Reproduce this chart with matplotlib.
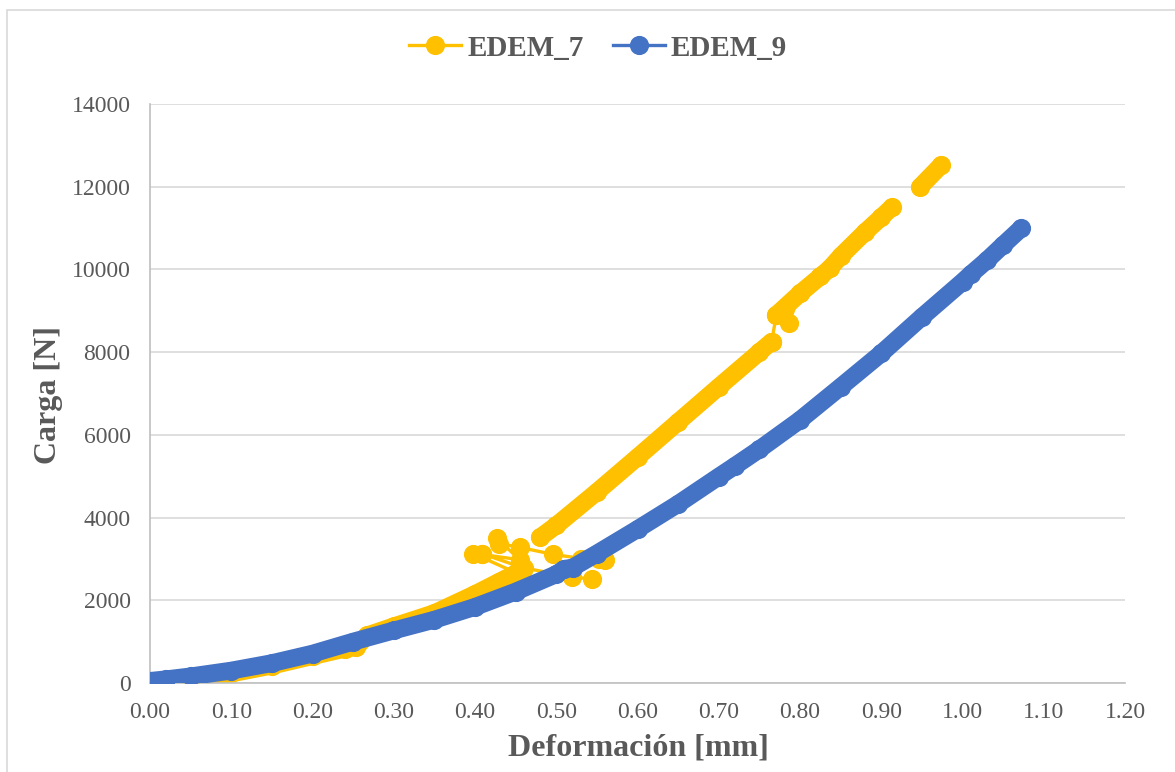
import numpy as np
import matplotlib
matplotlib.use("Agg")
import matplotlib.pyplot as plt
from matplotlib.lines import Line2D
from matplotlib.patches import Rectangle

# ---------------- data ----------------
nan = np.nan
# EDEM_7 main (dense) curve, gaps marked with nan
edem7_x = [0.00, 0.05, 0.10, 0.15, 0.20, 0.24, 0.254, 0.267, 0.30, 0.35, 0.40, 0.43, 0.451, nan,
           0.48, 0.50, 0.55, 0.60, 0.65, 0.70, 0.75, 0.765, nan,
           0.771, 0.80, 0.825, 0.837, 0.85, 0.88, 0.90, 0.913, nan,
           0.948, 0.974]
edem7_y = [0, 90, 230, 420, 650, 830, 865, 1150, 1370, 1690, 2150, 2450, 2660, nan,
           3520, 3810, 4620, 5460, 6310, 7160, 8000, 8250, nan,
           8900, 9420, 9830, 10030, 10320, 10900, 11260, 11500, nan,
           12000, 12525]
# EDEM_7 scattered points joined by thin lines
edem7_sx = [0.451, 0.398, 0.408, 0.46, 0.519, 0.544, nan,
            0.408, 0.455, 0.427, 0.430, 0.455, 0.496, 0.531, 0.560, 0.552, nan,
            0.765, 0.771, 0.786, 0.80]
edem7_sy = [2660, 3130, 3130, 2780, 2570, 2510, nan,
            3110, 2980, 3500, 3370, 3280, 3110, 3010, 2970, 2990, nan,
            8250, 8900, 8700, 9420]
# EDEM_9 curve
edem9_x = [0.00, 0.02, 0.05, 0.10, 0.15, 0.20, 0.25, 0.30, 0.35, 0.40, 0.45, 0.50, 0.51, 0.52,
           0.55, 0.60, 0.65, 0.70, 0.72, 0.75, 0.80, 0.85, 0.90, 0.95, 1.00, 1.01, 1.03, 1.05, 1.072]
edem9_y = [50, 90, 160, 300, 480, 710, 1000, 1270, 1530, 1840, 2210, 2630, 2760, 2790,
           3130, 3720, 4330, 4990, 5250, 5650, 6360, 7160, 7970, 8850, 9700, 9880, 10220, 10590, 10990]

series_names = ["EDEM_7", "EDEM_9"]
xticks = [0.00, 0.10, 0.20, 0.30, 0.40, 0.50, 0.60, 0.70, 0.80, 0.90, 1.00, 1.10, 1.20]
yticks = [0, 2000, 4000, 6000, 8000, 10000, 12000, 14000]

# ---------------- style ----------------
YEL = "#FFC000"
BLU = "#4472C4"
TXT = "#595959"
GRID = "#D9D9D9"
plt.rcParams["font.family"] = ["Liberation Serif", "DejaVu Serif"]

W, H = 1175, 772
fig = plt.figure(figsize=(W / 100, H / 100), dpi=100)
ax = fig.add_axes([150 / W, 1 - 683 / H, 975 / W, 579 / H])

ms = 12.8   # marker diameter in points
band = 12.8
thin = 2.4

# EDEM_7
ax.plot(edem7_x, edem7_y, color=YEL, lw=band, solid_capstyle="round",
        solid_joinstyle="round", zorder=2)
ax.plot(edem7_sx, edem7_sy, color=YEL, lw=thin, marker="o", ms=ms, mec=YEL, mfc=YEL, zorder=2)
ax.plot(edem7_x, edem7_y, color=YEL, lw=0, marker="o", ms=ms, mec=YEL, mfc=YEL, zorder=2)
# EDEM_9
ax.plot(edem9_x, edem9_y, color=BLU, lw=band, solid_capstyle="round",
        solid_joinstyle="round", zorder=3)
ax.plot(edem9_x, edem9_y, color=BLU, lw=0, marker="o", ms=ms, mec=BLU, mfc=BLU, zorder=3)

ax.set_xlim(0, 1.2)
ax.set_ylim(0, 14000)
ax.set_xticks(xticks)
ax.set_xticklabels([f"{v:.2f}" for v in xticks])
ax.set_yticks(yticks)
ax.set_yticklabels([str(v) for v in yticks])
ax.tick_params(axis="both", length=0, labelsize=17, colors=TXT)
ax.tick_params(axis="x", pad=14)
ax.tick_params(axis="y", pad=14)
ax.grid(axis="y", color=GRID, lw=1.2, zorder=0)
ax.set_axisbelow(True)
for s in ["top", "right"]:
    ax.spines[s].set_visible(False)
ax.spines["left"].set_color("#BFBFBF")
ax.spines["bottom"].set_color("#BFBFBF")
ax.spines["left"].set_linewidth(1.2)
ax.spines["bottom"].set_linewidth(1.2)

ax.set_xlabel("Deformación [mm]", fontsize=23, fontweight="bold", color=TXT)
ax.xaxis.set_label_coords((638 - 150) / 975, (683 - 734) / 579)
ax.set_ylabel("Carga [N]", fontsize=23, fontweight="bold", color=TXT)
ax.yaxis.set_label_coords((63 - 150) / 975, (683 - 395) / 579)

handles = [Line2D([], [], color=YEL, lw=thin, marker="o", ms=ms),
           Line2D([], [], color=BLU, lw=thin, marker="o", ms=ms)]
fig.legend(handles, series_names, loc="center", bbox_to_anchor=(598 / W, 1 - 48 / H),
           ncol=2, frameon=False, handlelength=1.8, handletextpad=0.2, columnspacing=1.0,
           prop={"size": 21, "weight": "bold"}, labelcolor=TXT)

fig.add_artist(Rectangle((7 / W, -0.05), 1.2, 1.05 - 10 / H, transform=fig.transFigure,
                         fill=False, edgecolor=GRID, lw=1.2))

fig.savefig("out.png", dpi=100, facecolor="white")
